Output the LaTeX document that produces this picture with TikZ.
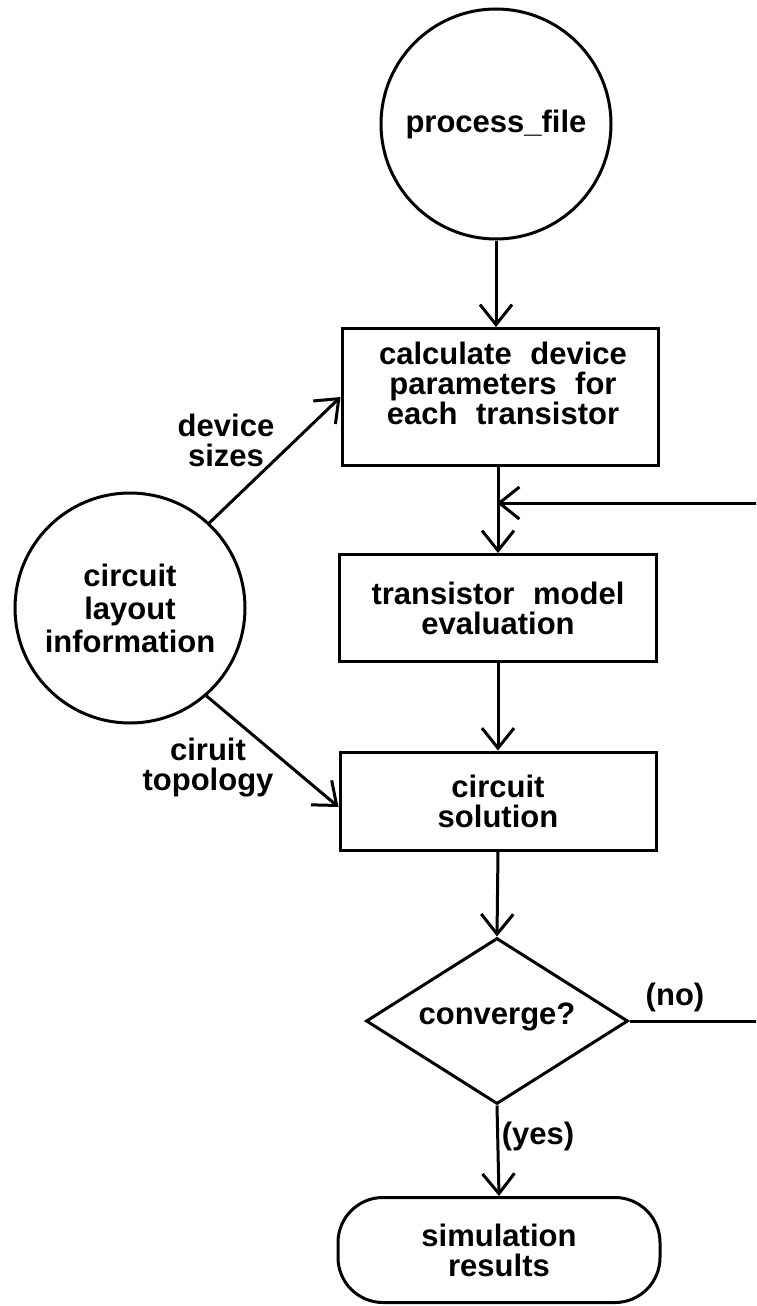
\documentclass[tikz,border=0pt]{standalone}
\usepackage{fontspec}
\setmainfont{Liberation Sans}
\usetikzlibrary{arrows.meta,shapes.geometric}
\newcommand{\wsp}{\hspace{0.6em}}
\tikzset{
  every node/.style={font=\bfseries\fontsize{31}{30}\selectfont, align=center},
  proc/.style={draw, line width=3pt, rectangle, inner sep=0pt},
  bubble/.style={draw, line width=3pt, circle, minimum size=230pt, inner sep=0pt},
  arr/.style={line width=3pt, -{Straight Barb[length=20pt,width=32pt,line width=3pt]}},
  lbl/.style={inner sep=0pt}
}
\begin{document}
\begin{tikzpicture}[x=1pt,y=-1pt]
\path[use as bounding box, fill=white] (0,0) rectangle (756,1306);
\clip (0,0) rectangle (756,1306);
\node[bubble] (pf) at (496,124) {process\_file};
\node[proc, minimum width=316pt, minimum height=137pt] (calc) at (500,397) {};
\node[lbl] (calct) at (503,383) {calculate\wsp device\\parameters\wsp for\\each\wsp transistor};
\node[proc, minimum width=317pt, minimum height=107pt] (tme) at (498,608)
  {transistor\wsp model\\evaluation};
\node[proc, minimum width=316pt, minimum height=98pt] (sol) at (498,801)
  {circuit\\solution};
\node[draw, line width=3pt, diamond, minimum width=262pt, minimum height=166pt, inner sep=0pt] (conv) at (497,1021) {};
\node[lbl] (convt) at (497,1017) {converge?};
\node[draw, line width=3pt, rectangle, rounded corners=45pt, minimum width=322pt, minimum height=105pt] (sim) at (499,1250)
  {simulation\\results};
\node[bubble, font=\bfseries\fontsize{31}{33}\selectfont] (cli) at (130,608) {circuit\\layout\\information};
\coordinate (join) at (497,503);
\coordinate (r1) at (790,1021);
\coordinate (r2) at (790,503);
% connectors
\draw[arr] (pf.south) -- (pf.south |- calc.north);
\draw[arr] (tme.north |- calc.south) -- (tme.north);
\draw[arr] (tme.south) -- (sol.north);
\draw[arr] (sol.south) -- (conv.north);
\draw[arr] (conv.south) -- (sim.north);
\draw[arr] (conv.east) -- (r1) -- (r2) -- (join);
\draw[arr] (cli.47) -- (calc.west);
\draw[arr] (cli.-49) -- ([yshift=-6pt]sol.west);
% labels
\node[lbl] (ds) at (226,440) {device\\sizes};
\node[lbl] (ct) at (208,768) {ciruit\\topology};
\node[lbl] (no) at (675,997) {(no)};
\node[lbl] (yes) at (538,1136) {(yes)};
\end{tikzpicture}
\end{document}
